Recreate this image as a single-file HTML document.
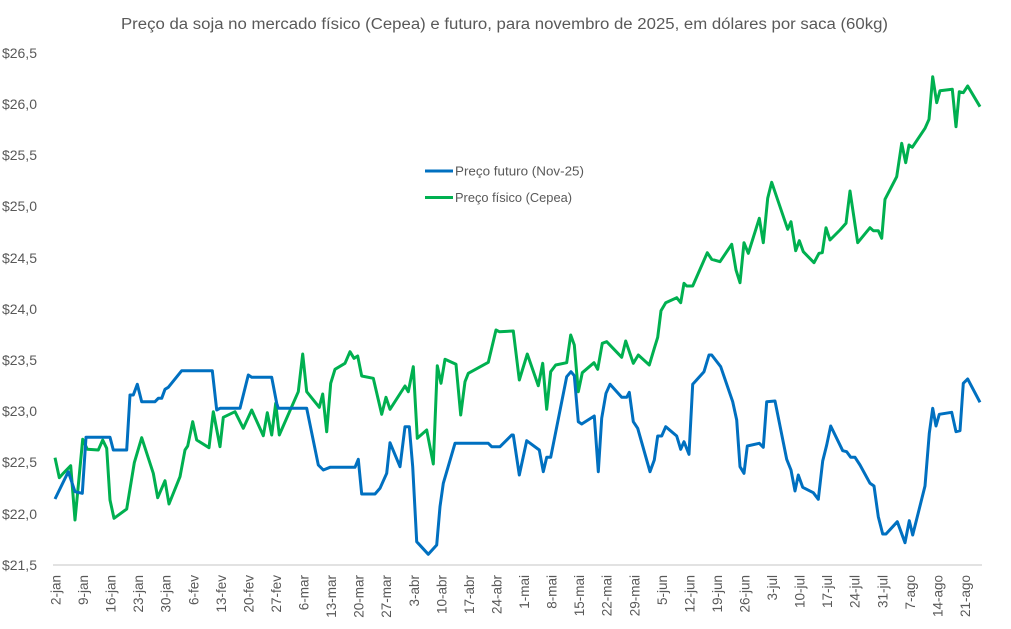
<!DOCTYPE html>
<html><head><meta charset="utf-8"><style>
html,body{margin:0;padding:0;background:#fff;}
svg{display:block;}
text{font-family:"Liberation Sans",sans-serif;fill:#595959;}
</style></head><body>
<svg width="1011" height="629" viewBox="0 0 1011 629" xmlns="http://www.w3.org/2000/svg">
<rect width="1011" height="629" fill="#fff"/>
<text x="121" y="29" font-size="15.5" textLength="767" lengthAdjust="spacingAndGlyphs">Preço da soja no mercado físico (Cepea) e futuro, para novembro de 2025, em dólares por saca (60kg)</text>
<g font-size="14" text-anchor="end">
<text x="37" y="58">$26,5</text>
<text x="37" y="109">$26,0</text>
<text x="37" y="160">$25,5</text>
<text x="37" y="211">$25,0</text>
<text x="37" y="263">$24,5</text>
<text x="37" y="314">$24,0</text>
<text x="37" y="365">$23,5</text>
<text x="37" y="416">$23,0</text>
<text x="37" y="467">$22,5</text>
<text x="37" y="519">$22,0</text>
<text x="37" y="570">$21,5</text>
</g>
<line x1="53" y1="565" x2="982" y2="565" stroke="#d9d9d9" stroke-width="1.5"/>
<g font-size="13.5" text-anchor="end">
<text transform="translate(60.5,575) rotate(-90)">2-jan</text>
<text transform="translate(88.1,575) rotate(-90)">9-jan</text>
<text transform="translate(115.6,575) rotate(-90)">16-jan</text>
<text transform="translate(143.2,575) rotate(-90)">23-jan</text>
<text transform="translate(170.7,575) rotate(-90)">30-jan</text>
<text transform="translate(198.3,575) rotate(-90)">6-fev</text>
<text transform="translate(225.9,575) rotate(-90)">13-fev</text>
<text transform="translate(253.4,575) rotate(-90)">20-fev</text>
<text transform="translate(281.0,575) rotate(-90)">27-fev</text>
<text transform="translate(308.5,575) rotate(-90)">6-mar</text>
<text transform="translate(336.1,575) rotate(-90)">13-mar</text>
<text transform="translate(363.7,575) rotate(-90)">20-mar</text>
<text transform="translate(391.2,575) rotate(-90)">27-mar</text>
<text transform="translate(418.8,575) rotate(-90)">3-abr</text>
<text transform="translate(446.3,575) rotate(-90)">10-abr</text>
<text transform="translate(473.9,575) rotate(-90)">17-abr</text>
<text transform="translate(501.5,575) rotate(-90)">24-abr</text>
<text transform="translate(529.0,575) rotate(-90)">1-mai</text>
<text transform="translate(556.6,575) rotate(-90)">8-mai</text>
<text transform="translate(584.1,575) rotate(-90)">15-mai</text>
<text transform="translate(611.7,575) rotate(-90)">22-mai</text>
<text transform="translate(639.3,575) rotate(-90)">29-mai</text>
<text transform="translate(666.8,575) rotate(-90)">5-jun</text>
<text transform="translate(694.4,575) rotate(-90)">12-jun</text>
<text transform="translate(721.9,575) rotate(-90)">19-jun</text>
<text transform="translate(749.5,575) rotate(-90)">26-jun</text>
<text transform="translate(777.1,575) rotate(-90)">3-jul</text>
<text transform="translate(804.6,575) rotate(-90)">10-jul</text>
<text transform="translate(832.2,575) rotate(-90)">17-jul</text>
<text transform="translate(859.7,575) rotate(-90)">24-jul</text>
<text transform="translate(887.3,575) rotate(-90)">31-jul</text>
<text transform="translate(914.9,575) rotate(-90)">7-ago</text>
<text transform="translate(942.4,575) rotate(-90)">14-ago</text>
<text transform="translate(970.0,575) rotate(-90)">21-ago</text>
</g>
<polyline fill="none" stroke="#00B050" stroke-width="3" stroke-linejoin="round" points="55,457.7 59.3,477.7 63.3,473.3 70.7,465.7 75,520 82.7,439.3 87.3,449.3 98.3,450 102.7,440 106.7,448.3 110,500 114,518.3 126.7,509 134.3,462.7 141.7,437.7 153.3,473.3 157.7,497.7 165,480.7 169,504 180,476.7 185,450 187.7,446 192.7,421.7 196.7,440 209,447.7 213.3,411.7 220,446.7 223.3,417.3 235,411.7 243.3,428.3 251.7,410 263.3,435.7 267.3,412.7 271.7,435 275.7,403.3 279.3,435 298.3,391.7 302.7,354 306.7,391.7 319.3,407.3 322.7,394 326.7,431.7 330.7,383.3 335,369.3 345,363.3 350,351.7 354,358.3 357.7,356 361.7,376 373.3,378.3 381.7,414.3 386,397.3 390,409.3 405,386 408.3,391.7 413.3,366.7 417.3,438.3 426.7,430 433.3,464 437.3,365.7 441,383.3 445,359.3 456,364.3 460.7,415 465,381.7 468.3,373.3 488.3,362.3 496,330 499.3,331.7 513.3,331 519.3,380 527.3,354 538.3,385.7 542.7,363.3 546.7,409.3 550.7,371.7 555.7,365 566.7,362.7 570.7,335 574.3,345 578.3,391.7 582.3,372.7 594,362.7 597.7,369.3 602.3,343.3 606.7,341.7 621.7,357.3 625.7,341 633.3,363.3 638.3,355 649.3,365 654.3,348.3 657.7,337.3 661,310.7 665.7,302.7 676.7,297.7 680.7,302.7 684,283.3 686.7,286 692.7,286 707.3,252.7 711.7,259.3 720,261.7 731.7,244.3 736,270 740,282.7 744,242.7 748.3,253.3 759.3,218.3 763.3,242.7 767.7,198.3 771.7,182.3 787.7,229.3 791,221.7 795.7,250.7 799.3,240.7 803.3,251.7 814,262.7 819,253.3 822.3,252.7 826,227.7 830,240 840,230 846,223.3 850,191 857.7,242.7 870,227.7 873.3,230.7 878.3,230.7 881.7,238.3 885,199.3 896.7,176.7 901.7,143.3 905.7,162.7 909,145 912.3,147.3 925,128.3 929,119.3 932.7,76.7 936.7,102.7 940,90.7 952.3,89.3 956,126.7 959.3,91.7 963.3,92.7 967.7,86 980,106.7"/>
<polyline fill="none" stroke="#0070C0" stroke-width="3" stroke-linejoin="round" points="55,499 68.3,471.7 75,491.7 82.3,493.3 86,437.3 110,437.3 113.3,450 126.7,450 130,395 133.3,395 137.3,384.3 141.7,401.7 155,401.7 158.3,398.3 161.7,398.3 165,389.3 168.3,387.3 181.7,370.7 212.3,370.7 216.7,410 220,408.3 240,408.3 248.3,375 251.7,377.3 271.7,377.3 276.7,403.3 278.3,408.3 306.7,408.3 318.3,465 323.3,470 330,467.3 355,467.3 358.3,459.3 361.7,494 375,494 380,488.3 386.7,473.3 390,442.7 400,466.7 405,426.7 409.3,426.7 412.7,466.7 416.7,541.7 428.3,554.3 436.7,545 440,506.7 443.3,483.3 455,443.3 488.3,443.3 491.7,446.7 500,446.7 511.7,435 513.3,435 519.3,475 526.7,440.7 539.3,450 543.3,471.7 546.7,457.3 550.7,457.3 566.7,376.7 571,371.7 574.3,375.7 578.3,421.7 581.7,424 594.3,416 598.3,471.7 601.7,418.3 606,393.3 610,384.3 621.7,397.3 626.7,397.3 629.3,392.3 633.3,421.7 637.7,428.3 650,471.7 654.3,460 657.7,436 661.7,436 665.7,426.7 676.7,436 680.7,449.3 684,441.7 689,454.3 692.7,384.3 704,371.7 709,355 711.7,355 720.7,366.7 732.7,401.7 736.7,420 740,466.7 744,473.3 747.3,446 759.3,443.3 763.3,447.3 766.7,401.7 775,401 786.7,459.3 791,470 795,491 798.3,475 802.7,487.3 813.3,492.7 818.3,499.3 822.7,461 826.7,445 830.7,426 842.7,450.7 846.7,451.7 850.7,457.3 855,457.3 860,465 870,483.3 874,486 878.3,516.7 882.7,534 886,534 897.3,521.7 905,542.7 909.3,520.7 912.7,535 925,486 929.3,433.3 932.7,408.3 936,426 939.3,414.3 951.7,412.3 956,431.7 960,430.7 963.3,383.3 967.7,379 980,402.3"/>
<line x1="425" y1="171" x2="453" y2="171" stroke="#0070C0" stroke-width="3"/>
<line x1="425" y1="197.5" x2="453" y2="197.5" stroke="#00B050" stroke-width="3"/>
<g font-size="13">
<text x="455" y="175.5" textLength="129" lengthAdjust="spacingAndGlyphs">Preço futuro (Nov-25)</text>
<text x="455" y="202" textLength="117" lengthAdjust="spacingAndGlyphs">Preço físico (Cepea)</text>
</g>
</svg>
</body></html>
